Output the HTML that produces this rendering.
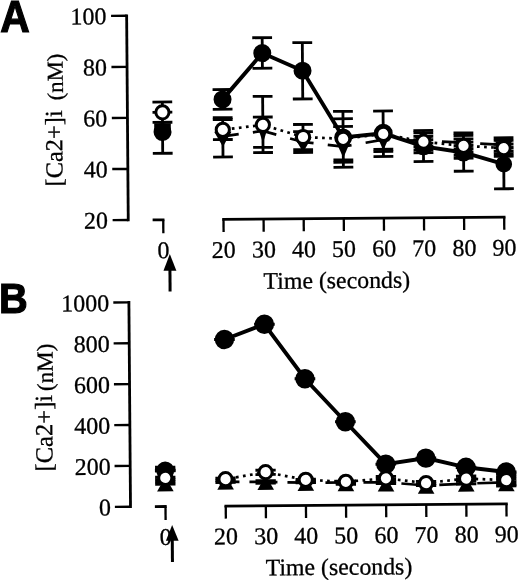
<!DOCTYPE html>
<html><head><meta charset="utf-8"><title>Figure</title>
<style>
html,body{margin:0;padding:0;background:#fff;}
body{width:520px;height:580px;overflow:hidden;font-family:"Liberation Serif",serif;}
svg{display:block;will-change:transform;}
</style></head>
<body>
<svg width="520" height="580" viewBox="0 0 520 580">
<rect width="520" height="580" fill="#fff"/>
<text transform="translate(0.25 32.2) scale(0.926 1)" font-family="Liberation Sans, sans-serif" font-weight="bold" font-size="44.1" stroke="#000" stroke-width="1.2" stroke-linejoin="miter">A</text>
<text transform="translate(-1.1 313.15) scale(0.916 1)" font-family="Liberation Sans, sans-serif" font-weight="bold" font-size="43.4" stroke="#000" stroke-width="1.2" stroke-linejoin="miter">B</text>
<g transform="rotate(-0.45 260 290)">
<line x1="128.80" y1="13.45" x2="128.80" y2="220.27" stroke="#000" stroke-width="2.8" />
<line x1="113.20" y1="14.75" x2="128.80" y2="14.75" stroke="#000" stroke-width="2.4" />
<text x="108.60" y="23.05" text-anchor="end" font-size="24" font-family="Liberation Serif, serif" stroke="#000" stroke-width="0.3" >100</text>
<line x1="113.20" y1="65.81" x2="128.80" y2="65.81" stroke="#000" stroke-width="2.4" />
<text x="108.60" y="74.11" text-anchor="end" font-size="24" font-family="Liberation Serif, serif" stroke="#000" stroke-width="0.3" >80</text>
<line x1="113.20" y1="116.86" x2="128.80" y2="116.86" stroke="#000" stroke-width="2.4" />
<text x="108.60" y="125.16" text-anchor="end" font-size="24" font-family="Liberation Serif, serif" stroke="#000" stroke-width="0.3" >60</text>
<line x1="113.20" y1="167.91" x2="128.80" y2="167.91" stroke="#000" stroke-width="2.4" />
<text x="108.60" y="176.22" text-anchor="end" font-size="24" font-family="Liberation Serif, serif" stroke="#000" stroke-width="0.3" >40</text>
<line x1="113.20" y1="218.97" x2="128.80" y2="218.97" stroke="#000" stroke-width="2.4" />
<text x="108.60" y="227.27" text-anchor="end" font-size="24" font-family="Liberation Serif, serif" stroke="#000" stroke-width="0.3" >20</text>
<line x1="222.75" y1="219.10" x2="506.05" y2="219.10" stroke="#000" stroke-width="2.8" />
<line x1="224.05" y1="219.10" x2="224.05" y2="231.70" stroke="#000" stroke-width="2.3" />
<text x="224.05" y="257.50" text-anchor="middle" font-size="24" font-family="Liberation Serif, serif" stroke="#000" stroke-width="0.3" >20</text>
<line x1="264.15" y1="219.10" x2="264.15" y2="231.70" stroke="#000" stroke-width="2.3" />
<text x="264.15" y="257.50" text-anchor="middle" font-size="24" font-family="Liberation Serif, serif" stroke="#000" stroke-width="0.3" >30</text>
<line x1="304.25" y1="219.10" x2="304.25" y2="231.70" stroke="#000" stroke-width="2.3" />
<text x="304.25" y="257.50" text-anchor="middle" font-size="24" font-family="Liberation Serif, serif" stroke="#000" stroke-width="0.3" >40</text>
<line x1="344.35" y1="219.10" x2="344.35" y2="231.70" stroke="#000" stroke-width="2.3" />
<text x="344.35" y="257.50" text-anchor="middle" font-size="24" font-family="Liberation Serif, serif" stroke="#000" stroke-width="0.3" >50</text>
<line x1="384.45" y1="219.10" x2="384.45" y2="231.70" stroke="#000" stroke-width="2.3" />
<text x="384.45" y="257.50" text-anchor="middle" font-size="24" font-family="Liberation Serif, serif" stroke="#000" stroke-width="0.3" >60</text>
<line x1="424.55" y1="219.10" x2="424.55" y2="231.70" stroke="#000" stroke-width="2.3" />
<text x="424.55" y="257.50" text-anchor="middle" font-size="24" font-family="Liberation Serif, serif" stroke="#000" stroke-width="0.3" >70</text>
<line x1="464.65" y1="219.10" x2="464.65" y2="231.70" stroke="#000" stroke-width="2.3" />
<text x="464.65" y="257.50" text-anchor="middle" font-size="24" font-family="Liberation Serif, serif" stroke="#000" stroke-width="0.3" >80</text>
<line x1="504.75" y1="219.10" x2="504.75" y2="231.70" stroke="#000" stroke-width="2.3" />
<text x="504.75" y="257.50" text-anchor="middle" font-size="24" font-family="Liberation Serif, serif" stroke="#000" stroke-width="0.3" >90</text>
<line x1="153.20" y1="219.10" x2="165.00" y2="219.10" stroke="#000" stroke-width="2.8" />
<line x1="163.80" y1="219.10" x2="163.80" y2="232.60" stroke="#000" stroke-width="2.3" />
<text x="163.80" y="257.50" text-anchor="middle" font-size="24" font-family="Liberation Serif, serif" stroke="#000" stroke-width="0.3" >0</text>
<text x="263.61" y="288.83" text-anchor="start" font-size="23.8" font-family="Liberation Serif, serif" stroke="#000" stroke-width="0.3" >Time (seconds)</text>
<text transform="translate(63.41 184.90) rotate(-90)" text-anchor="start" font-size="24.45" font-family="Liberation Serif, serif" stroke="#000" stroke-width="0.3">[Ca2+]i</text>
<text transform="translate(64.46 52.05) rotate(-90)" text-anchor="end" font-size="22.7" font-family="Liberation Serif, serif" stroke="#000" stroke-width="0.3">(nM)</text>
<path d="M170.10 253.30 L176.55 270.10 L163.65 270.10 Z" fill="#000"/>
<line x1="170.10" y1="269.10" x2="170.10" y2="290.80" stroke="#000" stroke-width="3" />
<line x1="163.80" y1="101.25" x2="163.80" y2="152.55" stroke="#000" stroke-width="2.8" />
<line x1="153.90" y1="101.25" x2="173.70" y2="101.25" stroke="#000" stroke-width="2.8" />
<line x1="153.90" y1="111.50" x2="173.70" y2="111.50" stroke="#000" stroke-width="2.8" />
<line x1="153.90" y1="121.55" x2="173.70" y2="121.55" stroke="#000" stroke-width="2.8" />
<line x1="153.90" y1="152.55" x2="173.70" y2="152.55" stroke="#000" stroke-width="2.8" />
<line x1="224.05" y1="89.30" x2="224.05" y2="109.00" stroke="#000" stroke-width="2.8" />
<line x1="224.05" y1="117.00" x2="224.05" y2="156.70" stroke="#000" stroke-width="2.8" />
<line x1="214.15" y1="89.30" x2="233.95" y2="89.30" stroke="#000" stroke-width="2.8" />
<line x1="214.15" y1="109.00" x2="233.95" y2="109.00" stroke="#000" stroke-width="2.8" />
<line x1="214.15" y1="117.40" x2="233.95" y2="117.40" stroke="#000" stroke-width="2.8" />
<line x1="214.15" y1="119.30" x2="233.95" y2="119.30" stroke="#000" stroke-width="2.8" />
<line x1="214.15" y1="139.30" x2="233.95" y2="139.30" stroke="#000" stroke-width="2.8" />
<line x1="214.15" y1="156.70" x2="233.95" y2="156.70" stroke="#000" stroke-width="2.8" />
<line x1="264.15" y1="37.70" x2="264.15" y2="68.30" stroke="#000" stroke-width="2.8" />
<line x1="264.15" y1="96.40" x2="264.15" y2="152.60" stroke="#000" stroke-width="2.8" />
<line x1="254.25" y1="37.70" x2="274.05" y2="37.70" stroke="#000" stroke-width="2.8" />
<line x1="254.25" y1="68.30" x2="274.05" y2="68.30" stroke="#000" stroke-width="2.8" />
<line x1="254.25" y1="96.40" x2="274.05" y2="96.40" stroke="#000" stroke-width="2.8" />
<line x1="254.25" y1="117.10" x2="274.05" y2="117.10" stroke="#000" stroke-width="2.8" />
<line x1="254.25" y1="147.40" x2="274.05" y2="147.40" stroke="#000" stroke-width="2.8" />
<line x1="254.25" y1="152.60" x2="274.05" y2="152.60" stroke="#000" stroke-width="2.8" />
<line x1="304.25" y1="42.95" x2="304.25" y2="99.25" stroke="#000" stroke-width="2.8" />
<line x1="304.25" y1="124.75" x2="304.25" y2="152.75" stroke="#000" stroke-width="2.8" />
<line x1="294.35" y1="42.95" x2="314.15" y2="42.95" stroke="#000" stroke-width="2.8" />
<line x1="294.35" y1="99.25" x2="314.15" y2="99.25" stroke="#000" stroke-width="2.8" />
<line x1="294.35" y1="124.75" x2="314.15" y2="124.75" stroke="#000" stroke-width="2.8" />
<line x1="294.35" y1="131.95" x2="314.15" y2="131.95" stroke="#000" stroke-width="2.8" />
<line x1="294.35" y1="149.95" x2="314.15" y2="149.95" stroke="#000" stroke-width="2.8" />
<line x1="294.35" y1="152.75" x2="314.15" y2="152.75" stroke="#000" stroke-width="2.8" />
<line x1="344.35" y1="112.05" x2="344.35" y2="167.95" stroke="#000" stroke-width="2.8" />
<line x1="334.45" y1="112.05" x2="354.25" y2="112.05" stroke="#000" stroke-width="2.8" />
<line x1="334.45" y1="119.45" x2="354.25" y2="119.45" stroke="#000" stroke-width="2.8" />
<line x1="334.45" y1="127.15" x2="354.25" y2="127.15" stroke="#000" stroke-width="2.8" />
<line x1="334.45" y1="160.60" x2="354.25" y2="160.60" stroke="#000" stroke-width="2.8" />
<line x1="334.45" y1="162.90" x2="354.25" y2="162.90" stroke="#000" stroke-width="2.8" />
<line x1="334.45" y1="167.95" x2="354.25" y2="167.95" stroke="#000" stroke-width="2.8" />
<line x1="384.45" y1="111.97" x2="384.45" y2="157.47" stroke="#000" stroke-width="2.8" />
<line x1="374.55" y1="111.97" x2="394.35" y2="111.97" stroke="#000" stroke-width="2.8" />
<line x1="374.55" y1="150.30" x2="394.35" y2="150.30" stroke="#000" stroke-width="2.8" />
<line x1="374.55" y1="152.50" x2="394.35" y2="152.50" stroke="#000" stroke-width="2.8" />
<line x1="374.55" y1="157.47" x2="394.35" y2="157.47" stroke="#000" stroke-width="2.8" />
<line x1="424.55" y1="131.90" x2="424.55" y2="162.80" stroke="#000" stroke-width="2.8" />
<line x1="414.65" y1="131.80" x2="434.45" y2="131.80" stroke="#000" stroke-width="2.8" />
<line x1="414.65" y1="134.10" x2="434.45" y2="134.10" stroke="#000" stroke-width="2.8" />
<line x1="414.65" y1="137.60" x2="434.45" y2="137.60" stroke="#000" stroke-width="2.8" />
<line x1="414.65" y1="141.00" x2="434.45" y2="141.00" stroke="#000" stroke-width="2.8" />
<line x1="414.65" y1="144.40" x2="434.45" y2="144.40" stroke="#000" stroke-width="2.8" />
<line x1="414.65" y1="147.80" x2="434.45" y2="147.80" stroke="#000" stroke-width="2.8" />
<line x1="414.65" y1="151.20" x2="434.45" y2="151.20" stroke="#000" stroke-width="2.8" />
<line x1="414.65" y1="154.00" x2="434.45" y2="154.00" stroke="#000" stroke-width="2.8" />
<line x1="414.65" y1="162.80" x2="434.45" y2="162.80" stroke="#000" stroke-width="2.8" />
<line x1="464.65" y1="134.70" x2="464.65" y2="172.80" stroke="#000" stroke-width="2.8" />
<line x1="454.75" y1="134.50" x2="474.55" y2="134.50" stroke="#000" stroke-width="2.8" />
<line x1="454.75" y1="137.00" x2="474.55" y2="137.00" stroke="#000" stroke-width="2.8" />
<line x1="454.75" y1="140.50" x2="474.55" y2="140.50" stroke="#000" stroke-width="2.8" />
<line x1="454.75" y1="143.80" x2="474.55" y2="143.80" stroke="#000" stroke-width="2.8" />
<line x1="454.75" y1="147.10" x2="474.55" y2="147.10" stroke="#000" stroke-width="2.8" />
<line x1="454.75" y1="150.40" x2="474.55" y2="150.40" stroke="#000" stroke-width="2.8" />
<line x1="454.75" y1="153.70" x2="474.55" y2="153.70" stroke="#000" stroke-width="2.8" />
<line x1="454.75" y1="157.00" x2="474.55" y2="157.00" stroke="#000" stroke-width="2.8" />
<line x1="454.75" y1="159.80" x2="474.55" y2="159.80" stroke="#000" stroke-width="2.8" />
<line x1="454.75" y1="172.80" x2="474.55" y2="172.80" stroke="#000" stroke-width="2.8" />
<line x1="504.75" y1="139.60" x2="504.75" y2="190.70" stroke="#000" stroke-width="2.8" />
<line x1="494.85" y1="139.70" x2="514.65" y2="139.70" stroke="#000" stroke-width="2.8" />
<line x1="494.85" y1="142.30" x2="514.65" y2="142.30" stroke="#000" stroke-width="2.8" />
<line x1="494.85" y1="146.00" x2="514.65" y2="146.00" stroke="#000" stroke-width="2.8" />
<line x1="494.85" y1="149.50" x2="514.65" y2="149.50" stroke="#000" stroke-width="2.8" />
<line x1="494.85" y1="153.00" x2="514.65" y2="153.00" stroke="#000" stroke-width="2.8" />
<line x1="494.85" y1="155.60" x2="514.65" y2="155.60" stroke="#000" stroke-width="2.8" />
<line x1="494.85" y1="158.20" x2="514.65" y2="158.20" stroke="#000" stroke-width="2.8" />
<line x1="494.85" y1="190.70" x2="514.65" y2="190.70" stroke="#000" stroke-width="2.8" />
<polyline points="224.05,136.00 264.15,131.00 304.25,142.35 344.35,147.20 384.45,140.70 424.55,142.00 464.65,144.30 504.75,146.70" fill="none" stroke="#000" stroke-width="2.7" stroke-dasharray="24 14.3" stroke-dashoffset="8"/>
<path d="M215.40 131.50 L232.70 131.50 L224.05 146.50 Z" fill="#000"/>
<path d="M259.65 129.00 L268.65 129.00 L264.15 143.00 Z" fill="#000"/>
<path d="M295.60 137.65 L312.90 137.65 L304.25 152.65 Z" fill="#000"/>
<path d="M337.85 143.60 L350.85 143.60 L344.35 158.60 Z" fill="#000"/>
<path d="M377.95 136.50 L390.95 136.50 L384.45 151.50 Z" fill="#000"/>
<path d="M415.90 138.00 L433.20 138.00 L424.55 153.00 Z" fill="#000"/>
<path d="M456.00 140.00 L473.30 140.00 L464.65 155.00 Z" fill="#000"/>
<path d="M496.10 143.00 L513.40 143.00 L504.75 158.00 Z" fill="#000"/>
<line x1="155.50" y1="126.00" x2="172.10" y2="126.00" stroke="#000" stroke-width="7.0" />
<polyline points="224.05,99.10 264.15,53.10 304.25,71.05 344.35,138.15 384.45,134.30 424.55,147.60 464.65,154.10 504.75,166.10" fill="none" stroke="#000" stroke-width="3.9" />
<circle cx="163.80" cy="131.25" r="9.0" fill="#000"/>
<circle cx="224.05" cy="99.10" r="9.0" fill="#000"/>
<circle cx="264.15" cy="53.10" r="9.0" fill="#000"/>
<circle cx="304.25" cy="71.05" r="9.0" fill="#000"/>
<circle cx="344.35" cy="138.15" r="9.0" fill="#000"/>
<circle cx="384.45" cy="134.30" r="9.5" fill="#000"/>
<circle cx="424.55" cy="147.60" r="9.0" fill="#000"/>
<circle cx="464.65" cy="154.10" r="9.0" fill="#000"/>
<circle cx="504.75" cy="166.10" r="8.3" fill="#000"/>
<polyline points="224.05,129.50 264.15,124.90 304.25,137.35 344.35,139.45 384.45,134.90 424.55,143.00 464.65,147.40 504.75,150.00" fill="none" stroke="#000" stroke-width="2.7" stroke-dasharray="2.7 4.4" stroke-dashoffset="5.1"/>
<circle cx="163.80" cy="111.55" r="6.6" fill="#fff" stroke="#000" stroke-width="3.0"/>
<circle cx="224.05" cy="129.50" r="6.6" fill="#fff" stroke="#000" stroke-width="3.0"/>
<circle cx="264.15" cy="124.90" r="6.6" fill="#fff" stroke="#000" stroke-width="3.0"/>
<circle cx="304.25" cy="137.35" r="6.6" fill="#fff" stroke="#000" stroke-width="3.0"/>
<circle cx="344.35" cy="139.45" r="6.6" fill="#fff" stroke="#000" stroke-width="3.0"/>
<circle cx="384.45" cy="134.90" r="6.6" fill="#fff" stroke="#000" stroke-width="3.0"/>
<circle cx="424.55" cy="143.00" r="6.6" fill="#fff" stroke="#000" stroke-width="3.0"/>
<circle cx="464.65" cy="147.40" r="6.6" fill="#fff" stroke="#000" stroke-width="3.0"/>
<circle cx="504.75" cy="150.00" r="6.6" fill="#fff" stroke="#000" stroke-width="3.0"/>
<line x1="128.80" y1="300.07" x2="128.80" y2="507.03" stroke="#000" stroke-width="2.8" />
<line x1="113.20" y1="301.37" x2="128.80" y2="301.37" stroke="#000" stroke-width="2.4" />
<text x="109.20" y="309.97" text-anchor="end" font-size="24" font-family="Liberation Serif, serif" stroke="#000" stroke-width="0.3" >1000</text>
<line x1="113.20" y1="342.24" x2="128.80" y2="342.24" stroke="#000" stroke-width="2.4" />
<text x="109.20" y="350.84" text-anchor="end" font-size="24" font-family="Liberation Serif, serif" stroke="#000" stroke-width="0.3" >800</text>
<line x1="113.20" y1="383.11" x2="128.80" y2="383.11" stroke="#000" stroke-width="2.4" />
<text x="109.20" y="391.71" text-anchor="end" font-size="24" font-family="Liberation Serif, serif" stroke="#000" stroke-width="0.3" >600</text>
<line x1="113.20" y1="423.99" x2="128.80" y2="423.99" stroke="#000" stroke-width="2.4" />
<text x="109.20" y="432.59" text-anchor="end" font-size="24" font-family="Liberation Serif, serif" stroke="#000" stroke-width="0.3" >400</text>
<line x1="113.20" y1="464.86" x2="128.80" y2="464.86" stroke="#000" stroke-width="2.4" />
<text x="109.20" y="473.46" text-anchor="end" font-size="24" font-family="Liberation Serif, serif" stroke="#000" stroke-width="0.3" >200</text>
<line x1="113.20" y1="505.73" x2="128.80" y2="505.73" stroke="#000" stroke-width="2.4" />
<text x="109.20" y="514.33" text-anchor="end" font-size="24" font-family="Liberation Serif, serif" stroke="#000" stroke-width="0.3" >0</text>
<line x1="222.75" y1="505.75" x2="506.05" y2="505.75" stroke="#000" stroke-width="2.8" />
<line x1="224.05" y1="505.75" x2="224.05" y2="518.35" stroke="#000" stroke-width="2.3" />
<text x="224.05" y="544.10" text-anchor="middle" font-size="24" font-family="Liberation Serif, serif" stroke="#000" stroke-width="0.3" >20</text>
<line x1="264.15" y1="505.75" x2="264.15" y2="518.35" stroke="#000" stroke-width="2.3" />
<text x="264.15" y="544.10" text-anchor="middle" font-size="24" font-family="Liberation Serif, serif" stroke="#000" stroke-width="0.3" >30</text>
<line x1="304.25" y1="505.75" x2="304.25" y2="518.35" stroke="#000" stroke-width="2.3" />
<text x="304.25" y="544.10" text-anchor="middle" font-size="24" font-family="Liberation Serif, serif" stroke="#000" stroke-width="0.3" >40</text>
<line x1="344.35" y1="505.75" x2="344.35" y2="518.35" stroke="#000" stroke-width="2.3" />
<text x="344.35" y="544.10" text-anchor="middle" font-size="24" font-family="Liberation Serif, serif" stroke="#000" stroke-width="0.3" >50</text>
<line x1="384.45" y1="505.75" x2="384.45" y2="518.35" stroke="#000" stroke-width="2.3" />
<text x="384.45" y="544.10" text-anchor="middle" font-size="24" font-family="Liberation Serif, serif" stroke="#000" stroke-width="0.3" >60</text>
<line x1="424.55" y1="505.75" x2="424.55" y2="518.35" stroke="#000" stroke-width="2.3" />
<text x="424.55" y="544.10" text-anchor="middle" font-size="24" font-family="Liberation Serif, serif" stroke="#000" stroke-width="0.3" >70</text>
<line x1="464.65" y1="505.75" x2="464.65" y2="518.35" stroke="#000" stroke-width="2.3" />
<text x="464.65" y="544.10" text-anchor="middle" font-size="24" font-family="Liberation Serif, serif" stroke="#000" stroke-width="0.3" >80</text>
<line x1="504.75" y1="505.75" x2="504.75" y2="518.35" stroke="#000" stroke-width="2.3" />
<text x="504.75" y="544.10" text-anchor="middle" font-size="24" font-family="Liberation Serif, serif" stroke="#000" stroke-width="0.3" >90</text>
<line x1="153.20" y1="505.75" x2="165.00" y2="505.75" stroke="#000" stroke-width="2.8" />
<line x1="163.80" y1="505.75" x2="163.80" y2="519.25" stroke="#000" stroke-width="2.3" />
<text x="163.80" y="544.10" text-anchor="middle" font-size="24" font-family="Liberation Serif, serif" stroke="#000" stroke-width="0.3" >0</text>
<text x="263.56" y="575.45" text-anchor="start" font-size="23.8" font-family="Liberation Serif, serif" stroke="#000" stroke-width="0.3" >Time (seconds)</text>
<text transform="translate(51.18 469.87) rotate(-90)" text-anchor="start" font-size="24.6" font-family="Liberation Serif, serif" stroke="#000" stroke-width="0.3">[Ca2+]i</text>
<text transform="translate(52.18 341.97) rotate(-90)" text-anchor="end" font-size="23.0" font-family="Liberation Serif, serif" stroke="#000" stroke-width="0.3">(nM)</text>
<path d="M170.30 524.20 L176.65 540.10 L163.95 540.10 Z" fill="#000"/>
<line x1="170.30" y1="539.10" x2="170.30" y2="561.40" stroke="#000" stroke-width="3" />
<line x1="153.65" y1="466.44" x2="173.95" y2="466.44" stroke="#000" stroke-width="2.8" />
<line x1="153.65" y1="468.54" x2="173.95" y2="468.54" stroke="#000" stroke-width="2.8" />
<line x1="153.65" y1="470.24" x2="173.95" y2="470.24" stroke="#000" stroke-width="2.8" />
<line x1="153.65" y1="476.44" x2="173.95" y2="476.44" stroke="#000" stroke-width="2.8" />
<line x1="153.65" y1="478.84" x2="173.95" y2="478.84" stroke="#000" stroke-width="2.8" />
<line x1="153.65" y1="481.24" x2="173.95" y2="481.24" stroke="#000" stroke-width="2.8" />
<line x1="153.65" y1="483.44" x2="173.95" y2="483.44" stroke="#000" stroke-width="2.8" />
<line x1="213.90" y1="477.72" x2="234.20" y2="477.72" stroke="#000" stroke-width="2.8" />
<line x1="213.90" y1="480.12" x2="234.20" y2="480.12" stroke="#000" stroke-width="2.8" />
<line x1="213.90" y1="482.22" x2="234.20" y2="482.22" stroke="#000" stroke-width="2.8" />
<line x1="254.00" y1="470.23" x2="274.30" y2="470.23" stroke="#000" stroke-width="2.8" />
<line x1="254.00" y1="474.53" x2="274.30" y2="474.53" stroke="#000" stroke-width="2.8" />
<line x1="254.00" y1="480.73" x2="274.30" y2="480.73" stroke="#000" stroke-width="2.8" />
<line x1="254.00" y1="483.23" x2="274.30" y2="483.23" stroke="#000" stroke-width="2.8" />
<line x1="294.10" y1="479.55" x2="314.40" y2="479.55" stroke="#000" stroke-width="2.8" />
<line x1="294.10" y1="481.65" x2="314.40" y2="481.65" stroke="#000" stroke-width="2.8" />
<line x1="294.10" y1="483.15" x2="314.40" y2="483.15" stroke="#000" stroke-width="2.8" />
<line x1="334.20" y1="481.76" x2="354.50" y2="481.76" stroke="#000" stroke-width="2.8" />
<line x1="334.20" y1="483.66" x2="354.50" y2="483.66" stroke="#000" stroke-width="2.8" />
<line x1="334.20" y1="485.06" x2="354.50" y2="485.06" stroke="#000" stroke-width="2.8" />
<line x1="374.30" y1="477.38" x2="394.60" y2="477.38" stroke="#000" stroke-width="2.8" />
<line x1="374.30" y1="479.98" x2="394.60" y2="479.98" stroke="#000" stroke-width="2.8" />
<line x1="374.30" y1="482.48" x2="394.60" y2="482.48" stroke="#000" stroke-width="2.8" />
<line x1="374.30" y1="484.58" x2="394.60" y2="484.58" stroke="#000" stroke-width="2.8" />
<line x1="414.40" y1="482.69" x2="434.70" y2="482.69" stroke="#000" stroke-width="2.8" />
<line x1="414.40" y1="484.89" x2="434.70" y2="484.89" stroke="#000" stroke-width="2.8" />
<line x1="414.40" y1="486.89" x2="434.70" y2="486.89" stroke="#000" stroke-width="2.8" />
<line x1="454.50" y1="477.71" x2="474.80" y2="477.71" stroke="#000" stroke-width="2.8" />
<line x1="454.50" y1="480.21" x2="474.80" y2="480.21" stroke="#000" stroke-width="2.8" />
<line x1="454.50" y1="482.81" x2="474.80" y2="482.81" stroke="#000" stroke-width="2.8" />
<line x1="454.50" y1="485.51" x2="474.80" y2="485.51" stroke="#000" stroke-width="2.8" />
<line x1="494.60" y1="475.92" x2="514.90" y2="475.92" stroke="#000" stroke-width="2.8" />
<line x1="494.60" y1="478.52" x2="514.90" y2="478.52" stroke="#000" stroke-width="2.8" />
<line x1="494.60" y1="481.12" x2="514.90" y2="481.12" stroke="#000" stroke-width="2.8" />
<line x1="494.60" y1="483.72" x2="514.90" y2="483.72" stroke="#000" stroke-width="2.8" />
<line x1="494.60" y1="486.32" x2="514.90" y2="486.32" stroke="#000" stroke-width="2.8" />
<line x1="494.60" y1="487.92" x2="514.90" y2="487.92" stroke="#000" stroke-width="2.8" />
<polyline points="224.05,481.42 264.15,482.03 304.25,482.95 344.35,483.16 384.45,483.28 424.55,486.79 464.65,485.21 504.75,484.32" fill="none" stroke="#000" stroke-width="2.7" stroke-dasharray="28 10" stroke-dashoffset="14.1"/>
<path d="M155.50 490.64 L172.10 490.64 L163.80 476.14 Z" fill="#000"/>
<path d="M215.75 489.32 L232.35 489.32 L224.05 474.82 Z" fill="#000"/>
<path d="M255.85 489.93 L272.45 489.93 L264.15 475.43 Z" fill="#000"/>
<path d="M295.95 491.25 L312.55 491.25 L304.25 476.75 Z" fill="#000"/>
<path d="M336.05 491.96 L352.65 491.96 L344.35 477.46 Z" fill="#000"/>
<path d="M376.15 492.48 L392.75 492.48 L384.45 477.98 Z" fill="#000"/>
<path d="M416.25 494.99 L432.85 494.99 L424.55 480.49 Z" fill="#000"/>
<path d="M456.35 493.21 L472.95 493.21 L464.65 478.71 Z" fill="#000"/>
<path d="M496.45 493.12 L513.05 493.12 L504.75 478.62 Z" fill="#000"/>
<polyline points="224.05,339.22 264.15,324.28 304.25,379.10 344.35,422.41 384.45,465.18 424.55,459.39 464.65,468.91 504.75,473.92" fill="none" stroke="#000" stroke-width="3.9" />
<line x1="153.50" y1="469.74" x2="174.10" y2="469.74" stroke="#000" stroke-width="3" />
<circle cx="163.80" cy="469.74" r="9.0" fill="#000"/>
<line x1="213.75" y1="339.22" x2="234.35" y2="339.22" stroke="#000" stroke-width="3" />
<circle cx="224.05" cy="339.22" r="9.7" fill="#000"/>
<line x1="253.85" y1="324.28" x2="274.45" y2="324.28" stroke="#000" stroke-width="3" />
<circle cx="264.15" cy="324.28" r="9.7" fill="#000"/>
<line x1="293.95" y1="379.10" x2="314.55" y2="379.10" stroke="#000" stroke-width="3" />
<circle cx="304.25" cy="379.10" r="9.7" fill="#000"/>
<line x1="334.05" y1="422.41" x2="354.65" y2="422.41" stroke="#000" stroke-width="3" />
<circle cx="344.35" cy="422.41" r="9.7" fill="#000"/>
<line x1="374.15" y1="465.18" x2="394.75" y2="465.18" stroke="#000" stroke-width="3" />
<circle cx="384.45" cy="465.18" r="9.7" fill="#000"/>
<line x1="414.25" y1="459.39" x2="434.85" y2="459.39" stroke="#000" stroke-width="3" />
<circle cx="424.55" cy="459.39" r="9.7" fill="#000"/>
<line x1="454.35" y1="468.91" x2="474.95" y2="468.91" stroke="#000" stroke-width="3" />
<circle cx="464.65" cy="468.91" r="9.7" fill="#000"/>
<line x1="494.45" y1="473.92" x2="515.05" y2="473.92" stroke="#000" stroke-width="3" />
<circle cx="504.75" cy="473.92" r="9.7" fill="#000"/>
<polyline points="224.05,478.92 264.15,472.23 304.25,480.15 344.35,482.46 384.45,479.28 424.55,484.39 464.65,480.21 504.75,482.02" fill="none" stroke="#000" stroke-width="2.7" stroke-dasharray="2.7 4.4" stroke-dashoffset="3.6"/>
<circle cx="163.80" cy="477.14" r="6.6" fill="#fff" stroke="#000" stroke-width="3.0"/>
<circle cx="224.05" cy="478.92" r="6.6" fill="#fff" stroke="#000" stroke-width="3.0"/>
<circle cx="264.15" cy="472.23" r="6.6" fill="#fff" stroke="#000" stroke-width="3.0"/>
<circle cx="304.25" cy="480.15" r="6.6" fill="#fff" stroke="#000" stroke-width="3.0"/>
<circle cx="344.35" cy="482.46" r="6.6" fill="#fff" stroke="#000" stroke-width="3.0"/>
<circle cx="384.45" cy="479.28" r="6.6" fill="#fff" stroke="#000" stroke-width="3.0"/>
<circle cx="424.55" cy="484.39" r="6.6" fill="#fff" stroke="#000" stroke-width="3.0"/>
<circle cx="464.65" cy="480.21" r="6.6" fill="#fff" stroke="#000" stroke-width="3.0"/>
<circle cx="504.75" cy="482.02" r="6.6" fill="#fff" stroke="#000" stroke-width="3.0"/>
</g>
</svg>
</body></html>
